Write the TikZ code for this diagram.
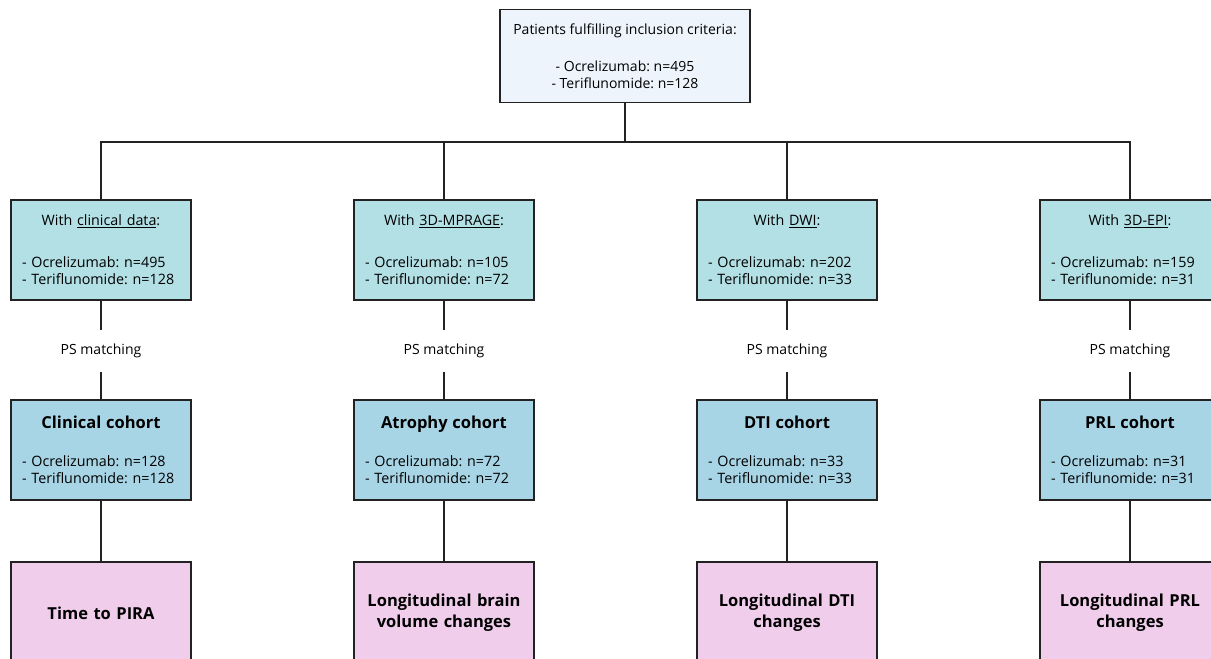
\documentclass[tikz,border=0pt]{standalone}
\usepackage{fontspec}
\setmainfont{Open Sans}
\usetikzlibrary{positioning}

\definecolor{topfill}{HTML}{EDF4FB}
\definecolor{datafill}{HTML}{B3E0E5}
\definecolor{cohortfill}{HTML}{A8D5E6}
\definecolor{outfill}{HTML}{F1CDEC}
\definecolor{linecol}{HTML}{222222}

\tikzstyle{every path}+=[line width=1.2pt]
\tikzstyle{box}=[draw=linecol,minimum width=180pt,minimum height=100pt,inner sep=0pt,text width=158pt,align=left,font=\fontsize{14.3}{17}\selectfont]
\tikzstyle{topbox}=[draw=linecol,fill=topfill,minimum width=250pt,minimum height=93pt,inner sep=0pt,align=center,font=\fontsize{14}{17}\selectfont]
\tikzstyle{databox}=[box,fill=datafill]
\tikzstyle{cohortbox}=[box,fill=cohortfill]
\tikzstyle{outbox}=[box,fill=outfill,minimum height=102pt,align=center,font=\bfseries\fontsize{16.5}{21}\selectfont]
\tikzstyle{psnode}=[minimum height=40pt,inner sep=0pt,font=\fontsize{14}{17}\selectfont]
\tikzstyle{link}=[draw=linecol]

\newcommand{\nlist}[2]{- Ocrelizumab: n=#1\\- Teriflunomide: n=#2}
\newcommand{\dtitle}[1]{{\centering #1\par}\vskip 25pt}
\newcommand{\ctitle}[1]{{\centering\bfseries\fontsize{16.5}{19}\selectfont #1\par}\vskip 21pt}

\begin{document}
\frenchspacing
\begin{tikzpicture}[x=1pt,y=-1pt,node distance=343pt]
\useasboundingbox (0,0) rectangle (1211,659);

% top
\node[topbox] (top) at (625,56) {Patients fulfilling inclusion criteria:\\[20pt]- Ocrelizumab: n=495\\- Teriflunomide: n=128};
\coordinate (split) at (625,142);

% data available
\node[databox] (d1) at (101,250) {\dtitle{With \underline{clinical data}:}\nlist{495}{128}};
\node[databox,right of=d1] (d2) {\dtitle{With \underline{3D-MPRAGE}:}\nlist{105}{72}};
\node[databox,right of=d2] (d3) {\dtitle{With \underline{DWI}:}\nlist{202}{33}};
\node[databox,right of=d3] (d4) {\dtitle{With \underline{3D-EPI}:}\nlist{159}{31}};

% matching
\node[psnode,node distance=101pt,below of=d1] (p1) {PS matching};
\node[psnode,right of=p1] (p2) {PS matching};
\node[psnode,right of=p2] (p3) {PS matching};
\node[psnode,right of=p3] (p4) {PS matching};

% cohorts
\node[cohortbox,node distance=99pt,below of=p1] (c1) {\ctitle{Clinical cohort}\nlist{128}{128}};
\node[cohortbox,right of=c1] (c2) {\ctitle{Atrophy cohort}\nlist{72}{72}};
\node[cohortbox,right of=c2] (c3) {\ctitle{DTI cohort}\nlist{33}{33}};
\node[cohortbox,right of=c3] (c4) {\ctitle{PRL cohort}\nlist{31}{31}};

% outcomes
\node[outbox,node distance=163pt,below of=c1] (o1) {Time to PIRA};
\node[outbox,right of=o1] (o2) {Longitudinal brain\\volume changes};
\node[outbox,right of=o2] (o3) {Longitudinal DTI\\changes};
\node[outbox,right of=o3] (o4) {Longitudinal PRL\\changes};

\draw[link] (top) -- (split);
\draw[link] (d1.north) |- (split) -| (d4.north);
\draw[link] (d2.north) -- (d2.north |- split);
\draw[link] (d3.north) -- (d3.north |- split);

\draw[link] (d1) edge (p1) (p1) edge (c1) (c1) edge (o1);
\draw[link] (d2) edge (p2) (p2) edge (c2) (c2) edge (o2);
\draw[link] (d3) edge (p3) (p3) edge (c3) (c3) edge (o3);
\draw[link] (d4) edge (p4) (p4) edge (c4) (c4) edge (o4);
\end{tikzpicture}
\end{document}
